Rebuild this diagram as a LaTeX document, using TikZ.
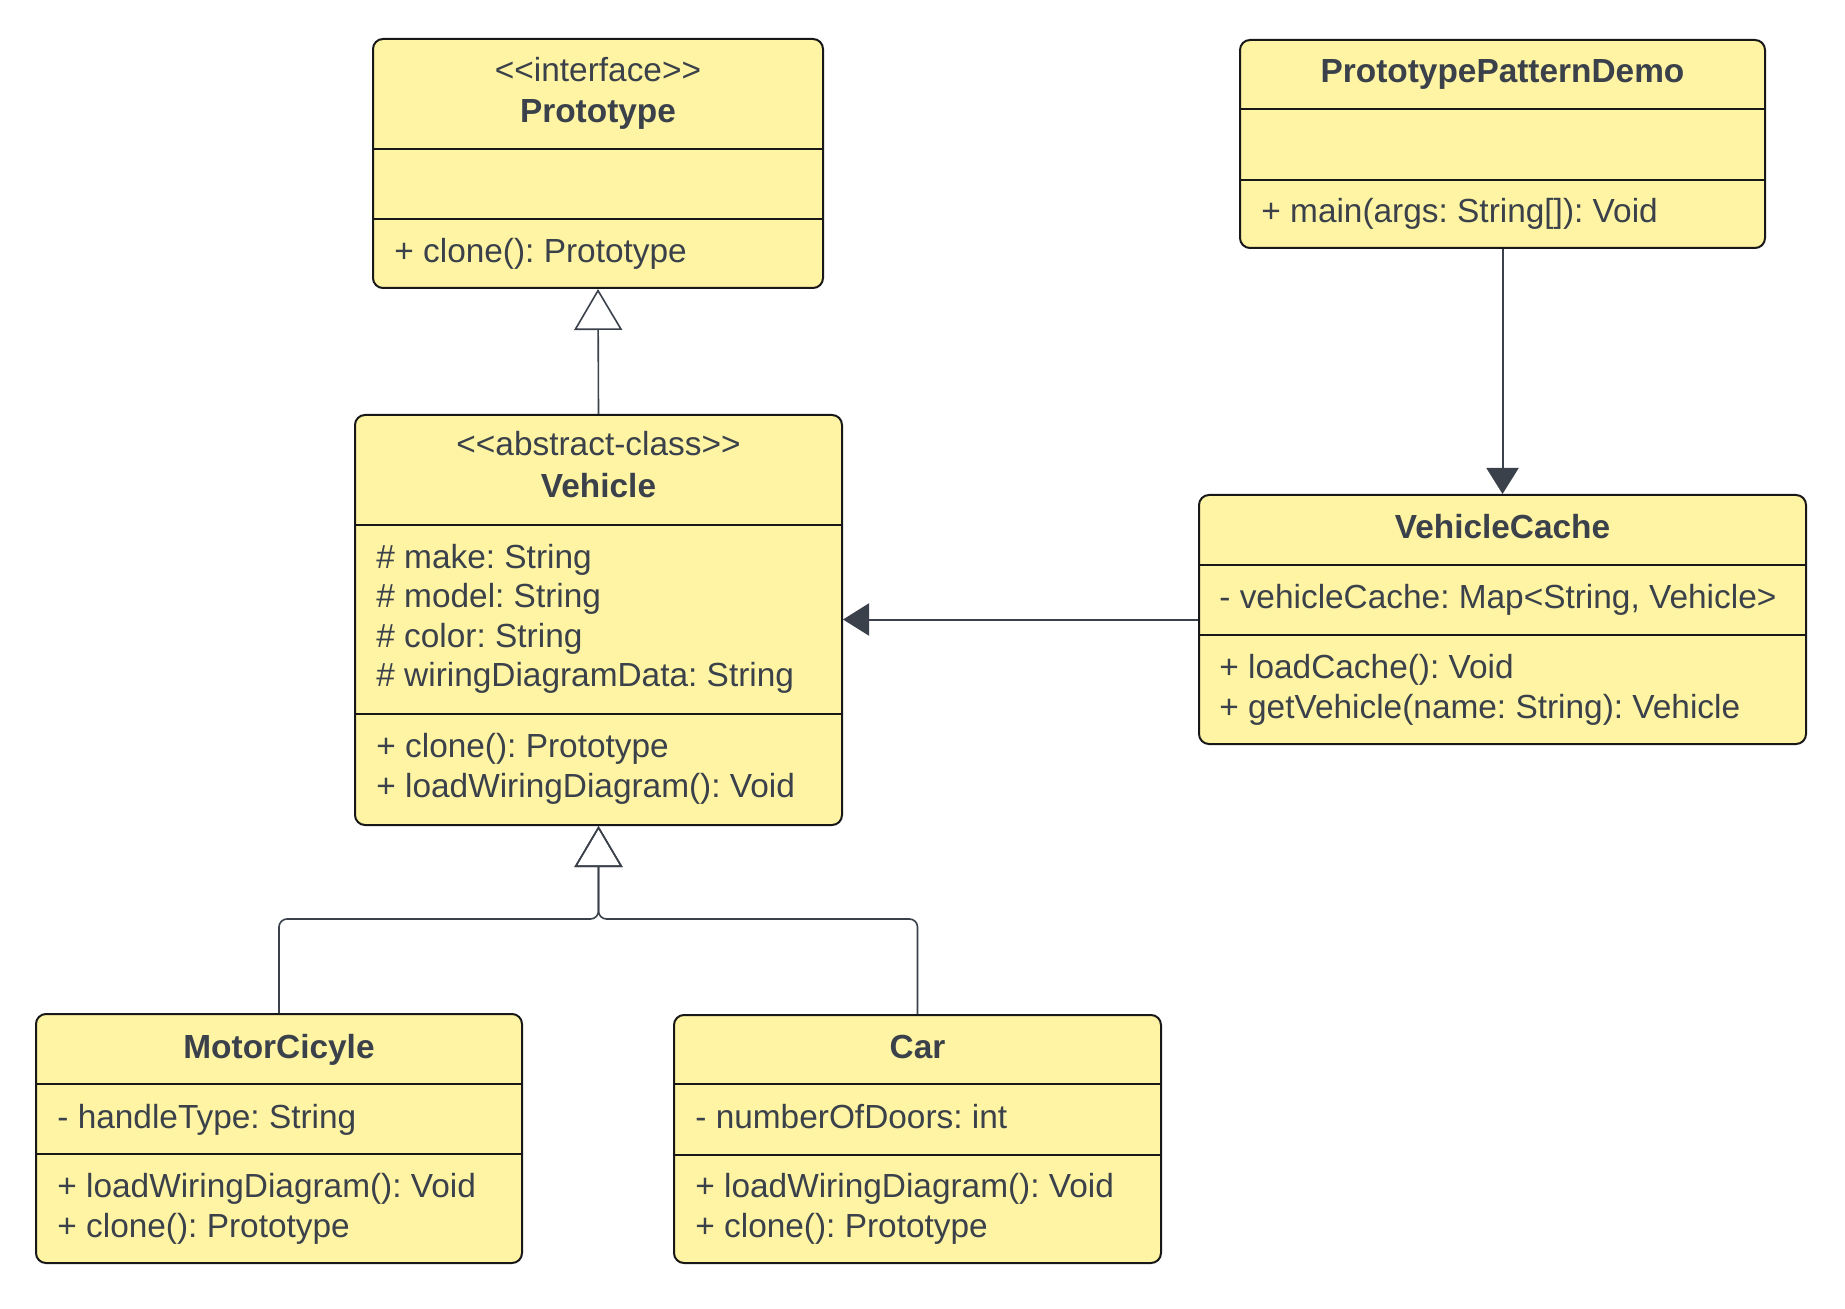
\documentclass[tikz,border=0pt]{standalone}
\usepackage{fontspec}
\setmainfont{Liberation Sans}
\usetikzlibrary{arrows.meta}
\frenchspacing

\definecolor{classfill}{RGB}{255,244,163}
\definecolor{ink}{RGB}{58,65,74}
\definecolor{edge}{RGB}{24,24,24}

% stereotype brackets, kept as two separate glyphs
\newcommand{\stl}{<\kern0pt<}
\newcommand{\str}{>\kern0pt>}

\tikzset{
  classbox/.style={rectangle, draw=edge, line width=1pt, fill=classfill,
    rounded corners=5pt, inner sep=0pt},
  divider/.style={draw=edge, line width=0.8pt},
  member/.style={anchor=base west, inner sep=0pt, text=ink,
    font=\fontsize{16.7}{19}\selectfont},
  stereo/.style={anchor=base, inner sep=0pt, text=ink,
    font=\fontsize{16.7}{19}\selectfont},
  classname/.style={anchor=base, inner sep=0pt, text=ink,
    font=\fontsize{16.7}{19}\selectfont\bfseries},
  realize/.style={draw=ink, line width=0.8pt, rounded corners=4pt,
    -{Triangle[open, length=20.5pt, width=24pt]}},
  assoc/.style={draw=ink, line width=1pt,
    -{Triangle[length=13pt, width=16pt]}},
}

\begin{document}
\begin{tikzpicture}[x=0.5pt, y=-0.5pt]
\useasboundingbox (0,0) rectangle (1845,1309);

% ---------- Prototype (interface) ----------
\node[classbox, minimum width=225pt, minimum height=124.5pt] (proto) at (598,163.5) {};
\draw[divider] (proto.west |- 0,149) -- (proto.east |- 0,149);
\draw[divider] (proto.west |- 0,219) -- (proto.east |- 0,219);
\node[stereo] (proto-st) at (598,82) {\stl interface\str};
\node[classname] (proto-nm) at (598,123) {Prototype};
\node[member] (proto-m1) at (394,263) {+ clone(): Prototype};

% ---------- Vehicle (abstract class) ----------
\node[classbox, minimum width=243.5pt, minimum height=205pt] (vehicle) at (598.5,620) {};
\draw[divider] (vehicle.west |- 0,525) -- (vehicle.east |- 0,525);
\draw[divider] (vehicle.west |- 0,714) -- (vehicle.east |- 0,714);
\node[stereo] (veh-st) at (598.5,456) {\stl abstract-class\str};
\node[classname] (veh-nm) at (598.5,498) {Vehicle};
\node[member] (veh-a1) at (376,568) {\# make: String};
\node[member] (veh-a2) at (376,607.5) {\# model: String};
\node[member] (veh-a3) at (376,647) {\# color: String};
\node[member] (veh-a4) at (376,686.5) {\# wiringDiagramData: String};
\node[member] (veh-m1) at (376,757) {+ clone(): Prototype};
\node[member] (veh-m2) at (376,797) {+ loadWiringDiagram(): Void};

% ---------- MotorCicyle ----------
\node[classbox, minimum width=243pt, minimum height=124.5pt] (motor) at (279,1138.5) {};
\draw[divider] (motor.west |- 0,1084) -- (motor.east |- 0,1084);
\draw[divider] (motor.west |- 0,1154) -- (motor.east |- 0,1154);
\node[classname] (motor-nm) at (279,1058) {MotorCicyle};
\node[member] (motor-a1) at (57,1128) {- handleType: String};
\node[member] (motor-m1) at (57,1197) {+ loadWiringDiagram(): Void};
\node[member] (motor-m2) at (57,1237) {+ clone(): Prototype};

% ---------- Car ----------
\node[classbox, minimum width=243.5pt, minimum height=124pt] (car) at (917.5,1139) {};
\draw[divider] (car.west |- 0,1084) -- (car.east |- 0,1084);
\draw[divider] (car.west |- 0,1155) -- (car.east |- 0,1155);
\node[classname] (car-nm) at (917.5,1058) {Car};
\node[member] (car-a1) at (695,1128) {- numberOfDoors: int};
\node[member] (car-m1) at (695,1197) {+ loadWiringDiagram(): Void};
\node[member] (car-m2) at (695,1237) {+ clone(): Prototype};

% ---------- PrototypePatternDemo ----------
\node[classbox, minimum width=262.5pt, minimum height=104pt] (demo) at (1502.5,144) {};
\draw[divider] (demo.west |- 0,109) -- (demo.east |- 0,109);
\draw[divider] (demo.west |- 0,180) -- (demo.east |- 0,180);
\node[classname] (demo-nm) at (1502.5,83) {PrototypePatternDemo};
\node[member] (demo-m1) at (1261,223) {+ main(args: String[]): Void};

% ---------- VehicleCache ----------
\node[classbox, minimum width=303.5pt, minimum height=124.5pt] (cache) at (1502.5,619.5) {};
\draw[divider] (cache.west |- 0,565) -- (cache.east |- 0,565);
\draw[divider] (cache.west |- 0,635) -- (cache.east |- 0,635);
\node[classname] (cache-nm) at (1502.5,539) {VehicleCache};
\node[member] (cache-a1) at (1219,609) {- vehicleCache: Map<String, Vehicle>};
\node[member] (cache-m1) at (1219,678) {+ loadCache(): Void};
\node[member] (cache-m2) at (1219,718) {+ getVehicle(name: String): Vehicle};

% ---------- relations ----------
\coordinate (fork) at (598.5,919);
\draw[realize] (vehicle.north) -- (proto.south);
\draw[realize] (motor.north) |- (fork) -- (vehicle.south);
\draw[realize] (car.north) |- (fork) -- (vehicle.south);
\draw[assoc] (demo.south) -- (cache.north);
\draw[assoc] (cache.west) -- (cache.west -| vehicle.east);
\end{tikzpicture}
\end{document}
